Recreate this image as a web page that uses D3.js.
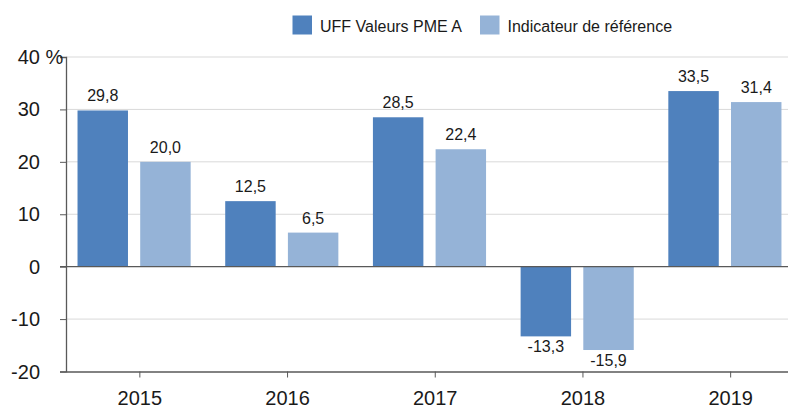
<!DOCTYPE html>
<html><head><meta charset="utf-8">
<script src="https://cdn.jsdelivr.net/npm/d3@7"></script>
<style>body{margin:0;background:#fff}svg{display:block;font-family:"Liberation Sans",Arial,sans-serif}</style>
</head><body><svg id="c" width="788" height="408"></svg>
<script>
const years = ["2015","2016","2017","2018","2019"];
const seriesNames = ["UFF Valeurs PME A","Indicateur de référence"];
const fundValues = [29.8, 12.5, 28.5, -13.3, 33.5];
const benchValues = [20.0, 6.5, 22.4, -15.9, 31.4];
const yTicks = [-20, -10, 0, 10, 20, 30, 40];
const colors = ["#4f81bd", "#95b3d7"];

(function () {
const svg = d3.select("#c");
const mLeft = 66, mRight = 804.5, mTop = 57, mBottom = 371.5;
const x0 = d3.scaleBand().domain(years).range([mLeft, mRight]);
const bw = x0.bandwidth();
const x1 = d3.scaleBand().domain(seriesNames).range([bw*0.078, bw*0.844]).paddingInner(0.195);
const y = d3.scaleLinear().domain([-20, 40]).range([mBottom, mTop]);
const fmt = v => d3.format(".1f")(v).replace(".", ",").replace("\u2212", "-");

// gridlines
svg.append("g").selectAll("line").data(yTicks.filter(t => t !== 0 && t !== -20)).join("line")
  .attr("x1", mLeft).attr("x2", 788).attr("y1", d => y(d)).attr("y2", d => y(d))
  .attr("stroke", "#d9d9d9").attr("stroke-width", 1);

// bars
const data = years.map((yr, i) => ({yr, vals: [fundValues[i], benchValues[i]]}));
const g = svg.append("g").selectAll("g").data(data).join("g")
  .attr("transform", d => `translate(${x0(d.yr)},0)`);
g.selectAll("rect").data(d => d.vals.map((v, j) => ({v, s: seriesNames[j], j}))).join("rect")
  .attr("x", d => x1(d.s)).attr("width", x1.bandwidth())
  .attr("y", d => y(Math.max(0, d.v))).attr("height", d => Math.abs(y(d.v) - y(0)))
  .attr("fill", d => colors[d.j]);
g.selectAll("text").data(d => d.vals.map((v, j) => ({v, s: seriesNames[j], j}))).join("text")
  .attr("x", d => x1(d.s) + x1.bandwidth()/2)
  .attr("y", d => d.v >= 0 ? y(d.v) - 9 : y(d.v) + 16)
  .attr("text-anchor", "middle").attr("font-size", 16).attr("fill", "#1a1a1a")
  .text(d => fmt(d.v));

// zero line
svg.append("line").attr("x1", 60).attr("x2", 788).attr("y1", y(0)).attr("y2", y(0))
  .attr("stroke", "#595959").attr("stroke-width", 1.3);

// y axis
const yAxis = svg.append("g").attr("transform", `translate(${mLeft},0)`)
  .call(d3.axisLeft(y).tickValues(yTicks).tickSize(6).tickFormat(""));
yAxis.select(".domain").attr("stroke", "#595959").attr("stroke-width", 1.3);
yAxis.selectAll(".tick line").attr("stroke", "#595959");
svg.append("g").selectAll("text").data(yTicks).join("text")
  .attr("x", 40).attr("y", d => y(d) + 7).attr("text-anchor", "end")
  .attr("font-size", 20).attr("fill", "#1a1a1a").text(d => d);
svg.append("text").attr("x", 40).attr("y", y(40) + 7).attr("font-size", 20).attr("fill", "#1a1a1a").text("\u00a0%");

// x axis
const xAxis = svg.append("g").attr("transform", `translate(0,${mBottom})`)
  .call(d3.axisBottom(x0).tickSize(6).tickSizeOuter(0));
xAxis.select(".domain").attr("stroke", "#595959").attr("stroke-width", 1.3);
xAxis.selectAll(".tick line").attr("stroke", "#595959");
xAxis.selectAll(".tick text").attr("font-size", 20).attr("fill", "#1a1a1a").attr("dy", null).attr("y", 33)
  .attr("font-family", "Liberation Sans, Arial, sans-serif");

// legend
const legX = [292.5, 480];
const leg = svg.append("g").selectAll("g").data(seriesNames).join("g")
  .attr("transform", (d, i) => `translate(${legX[i]},15.5)`);
leg.append("rect").attr("width", 19.5).attr("height", 19).attr("fill", (d, i) => colors[i]);
leg.append("text").attr("x", 27.5).attr("y", 16.5).attr("font-size", 16).attr("fill", "#1a1a1a").text(d => d);
})();
</script></body></html>
